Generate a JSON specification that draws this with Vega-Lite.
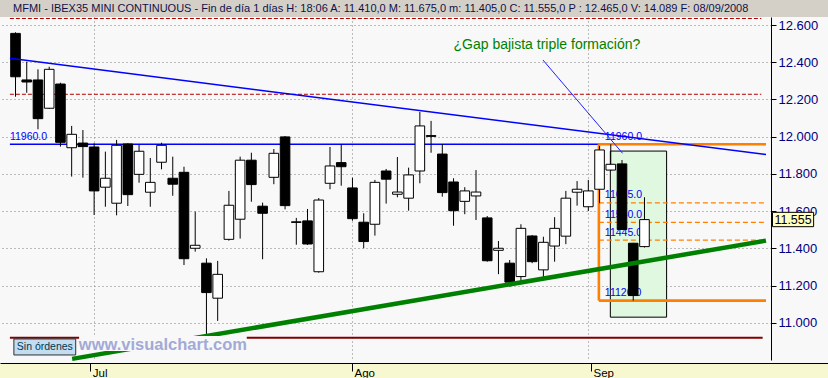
{
  "$schema": "https://vega.github.io/schema/vega-lite/v6.json",
  "padding": 0,
  "spacing": 0,
  "background": "#f8f8f8",
  "config": {"view": {"stroke": null}, "font": "Liberation Sans", "concat": {"spacing": 0}},
  "datasets": {
    "candles": [
      {"d":"2008-06-20","i":0,"o":12555,"h":12561,"l":12215,"c":12322},
      {"d":"2008-06-23","i":1,"o":12305,"h":12403,"l":12236,"c":12294},
      {"d":"2008-06-24","i":2,"o":12305,"h":12362,"l":12040,"c":12097},
      {"d":"2008-06-25","i":3,"o":12153,"h":12376,"l":12150,"c":12362},
      {"d":"2008-06-26","i":4,"o":12283,"h":12290,"l":11947,"c":11970},
      {"d":"2008-06-27","i":5,"o":11941,"h":12058,"l":11786,"c":12013},
      {"d":"2008-06-30","i":6,"o":11966,"h":12036,"l":11780,"c":11947},
      {"d":"2008-07-01","i":7,"o":11945,"h":11965,"l":11580,"c":11709},
      {"d":"2008-07-02","i":8,"o":11729,"h":11920,"l":11624,"c":11777},
      {"d":"2008-07-03","i":9,"o":11643,"h":11983,"l":11578,"c":11954},
      {"d":"2008-07-04","i":10,"o":11961,"h":11965,"l":11628,"c":11689},
      {"d":"2008-07-07","i":11,"o":11798,"h":11956,"l":11753,"c":11922},
      {"d":"2008-07-08","i":12,"o":11702,"h":11886,"l":11624,"c":11755},
      {"d":"2008-07-09","i":13,"o":11863,"h":11968,"l":11825,"c":11954},
      {"d":"2008-07-10","i":14,"o":11777,"h":11893,"l":11683,"c":11745},
      {"d":"2008-07-11","i":15,"o":11809,"h":11839,"l":11311,"c":11345},
      {"d":"2008-07-14","i":16,"o":11401,"h":11598,"l":11383,"c":11417},
      {"d":"2008-07-15","i":17,"o":11321,"h":11347,"l":10921,"c":11163},
      {"d":"2008-07-16","i":18,"o":11133,"h":11333,"l":11011,"c":11261},
      {"d":"2008-07-17","i":19,"o":11449,"h":11709,"l":11442,"c":11632},
      {"d":"2008-07-18","i":20,"o":11557,"h":11893,"l":11453,"c":11874},
      {"d":"2008-07-21","i":21,"o":11874,"h":11914,"l":11651,"c":11743},
      {"d":"2008-07-22","i":22,"o":11627,"h":11646,"l":11342,"c":11589},
      {"d":"2008-07-23","i":23,"o":11782,"h":11934,"l":11745,"c":11911},
      {"d":"2008-07-24","i":24,"o":11999,"h":12004,"l":11610,"c":11630},
      {"d":"2008-07-25","i":25,"o":11543,"h":11564,"l":11420,"c":11540},
      {"d":"2008-07-28","i":26,"o":11548,"h":11612,"l":11419,"c":11424},
      {"d":"2008-07-29","i":27,"o":11275,"h":11671,"l":11270,"c":11660},
      {"d":"2008-07-30","i":28,"o":11750,"h":11945,"l":11718,"c":11843},
      {"d":"2008-07-31","i":29,"o":11861,"h":11961,"l":11737,"c":11839},
      {"d":"2008-08-01","i":30,"o":11725,"h":11780,"l":11549,"c":11560},
      {"d":"2008-08-04","i":31,"o":11541,"h":11589,"l":11401,"c":11437},
      {"d":"2008-08-05","i":32,"o":11530,"h":11768,"l":11469,"c":11755},
      {"d":"2008-08-06","i":33,"o":11816,"h":11827,"l":11641,"c":11772},
      {"d":"2008-08-07","i":34,"o":11691,"h":11891,"l":11675,"c":11703},
      {"d":"2008-08-08","i":35,"o":11670,"h":11834,"l":11603,"c":11795},
      {"d":"2008-08-11","i":36,"o":11816,"h":12133,"l":11750,"c":12058},
      {"d":"2008-08-12","i":37,"o":12006,"h":12085,"l":11914,"c":12002},
      {"d":"2008-08-13","i":38,"o":11907,"h":11961,"l":11678,"c":11700},
      {"d":"2008-08-14","i":39,"o":11757,"h":11777,"l":11522,"c":11603},
      {"d":"2008-08-15","i":40,"o":11653,"h":11729,"l":11584,"c":11709},
      {"d":"2008-08-18","i":41,"o":11682,"h":11821,"l":11553,"c":11703},
      {"d":"2008-08-19","i":42,"o":11564,"h":11574,"l":11329,"c":11334},
      {"d":"2008-08-20","i":43,"o":11390,"h":11440,"l":11262,"c":11401},
      {"d":"2008-08-21","i":44,"o":11321,"h":11338,"l":11195,"c":11219},
      {"d":"2008-08-22","i":45,"o":11249,"h":11530,"l":11208,"c":11508},
      {"d":"2008-08-25","i":46,"o":11467,"h":11472,"l":11321,"c":11329},
      {"d":"2008-08-26","i":47,"o":11285,"h":11463,"l":11231,"c":11433},
      {"d":"2008-08-27","i":48,"o":11413,"h":11568,"l":11329,"c":11508},
      {"d":"2008-08-28","i":49,"o":11466,"h":11709,"l":11423,"c":11670},
      {"d":"2008-08-29","i":50,"o":11702,"h":11762,"l":11630,"c":11718},
      {"d":"2008-09-01","i":51,"o":11624,"h":11768,"l":11601,"c":11709},
      {"d":"2008-09-02","i":52,"o":11718,"h":11950,"l":11643,"c":11929},
      {"d":"2008-09-03","i":53,"o":11821,"h":11960,"l":11815,"c":11852},
      {"d":"2008-09-04","i":54,"o":11854,"h":11875,"l":11500,"c":11502},
      {"d":"2008-09-05","i":55,"o":11428,"h":11430,"l":11120,"c":11147},
      {"d":"2008-09-08","i":56,"o":11410,"h":11675,"l":11405,"c":11555}
    ],
    "lines": [
      {"k":"resistance","i":-0.5,"v":11960,"i2":51.94,"v2":11960},
      {"k":"downtrend","i":-0.5,"v":12421,"i2":66.82,"v2":11904},
      {"k":"box","i":51.94,"v":11960,"i2":66.82,"v2":11960},
      {"k":"box","i":51.94,"v":11120,"i2":66.82,"v2":11120},
      {"k":"box","i":51.94,"v":11960,"i2":51.94,"v2":11120},
      {"k":"fibo","i":51.94,"v":11645,"i2":66.82,"v2":11645},
      {"k":"fibo","i":51.94,"v":11540,"i2":66.82,"v2":11540},
      {"k":"fibo","i":51.94,"v":11445,"i2":66.82,"v2":11445},
      {"k":"level","i":-0.5,"v":12635,"i2":66.4,"v2":12635},
      {"k":"level","i":-0.5,"v":12228,"i2":66.4,"v2":12228},
      {"k":"support","i":-0.5,"v":10921,"i2":66.52,"v2":10921},
      {"k":"uptrend","i":5.04,"v":10807,"i2":66.82,"v2":11442},
      {"k":"pointer","i":46.96,"v":12412,"i2":54.05,"v2":11911}
    ],
    "labels": [
      {"t":"11960.0","i":-0.5,"v":11960},
      {"t":"11960.0","i":52.47,"v":11960},
      {"t":"11645.0","i":52.47,"v":11645},
      {"t":"11540.0","i":52.47,"v":11540},
      {"t":"11445.0","i":52.47,"v":11445},
      {"t":"11120.0","i":52.47,"v":11120}
    ]
  },
  "vconcat": [
    {
      "width": 828,
      "height": 17,
      "view": {"fill": "#d4d0c8", "stroke": null},
      "data": {"values": [{"k": 1}]},
      "mark": {"type": "point", "opacity": 0},
      "title": {
        "text": "MFMI - IBEX35 MINI CONTINUOUS - Fin de día 1 días  H: 18:06  A: 11.410,0  M: 11.675,0  m: 11.405,0  C: 11.555,0  P : 12.465,0  V: 14.089  F: 08/09/2008",
        "anchor": "start",
        "frame": "group",
        "orient": "top",
        "offset": -14,
        "dx": 13,
        "font": "Liberation Sans",
        "fontSize": 11,
        "fontWeight": "normal",
        "color": "#10104a"
      }
    },
    {
      "width": 771,
      "height": 343,
      "view": {"fill": "#f8f8f8", "stroke": null},
      "layer": [
        {
          "data": {"values": [{"name": "gap", "i": 52.96, "i2": 57.97, "v": 11923, "v2": 11031}]},
          "mark": {"type": "rect", "fill": "#e0f8e0", "stroke": "#000000", "strokeWidth": 1},
          "encoding": {
            "x": {"field": "i", "type": "quantitative", "scale": {"domain": [-0.936, 66.82], "nice": false, "zero": false},
              "axis": {"values": [7, 30, 51], "labels": false, "ticks": false, "domain": false, "grid": true, "gridDash": [1, 3], "gridColor": "#808080", "title": null}},
            "x2": {"field": "i2"},
            "y": {"field": "v", "type": "quantitative", "scale": {"domain": [10801, 12643], "nice": false, "zero": false},
              "axis": {"orient": "right", "values": [11000, 11200, 11400, 11600, 11800, 12000, 12200, 12400, 12600],
                "labelExpr": "replace(format(datum.value, ',.0f'), ',', '.')", "grid": true, "gridDash": [1, 3], "gridColor": "#808080",
                "tickSize": 5, "tickColor": "#000000", "domain": true, "domainColor": "#000000", "labelColor": "#000080", "labelFontSize": 13,
                "labelFont": "Liberation Sans", "labelPadding": 2, "title": null}},
            "y2": {"field": "v2"}
          }
        },
        {
          "data": {"name": "lines"},
          "transform": [{"filter": "datum.k == 'fibo'"}],
          "mark": {"type": "rule", "color": "#ff8000", "strokeWidth": 1.3, "strokeDash": [5, 3]},
          "encoding": {
            "x": {"field": "i", "type": "quantitative", "title": null},
            "x2": {"field": "i2"},
            "y": {"field": "v", "type": "quantitative", "title": null},
            "y2": {"field": "v2"}
          }
        },
        {
          "data": {"name": "lines"},
          "transform": [{"filter": "datum.k == 'resistance'"}],
          "mark": {"type": "rule", "color": "#0000ff", "strokeWidth": 1.5},
          "encoding": {
            "x": {"field": "i", "type": "quantitative", "title": null},
            "x2": {"field": "i2"},
            "y": {"field": "v", "type": "quantitative", "title": null},
            "y2": {"field": "v2"}
          }
        },
        {
          "data": {"name": "lines"},
          "transform": [{"filter": "datum.k == 'box'"}],
          "mark": {"type": "rule", "color": "#ff8000", "strokeWidth": 2.6},
          "encoding": {
            "x": {"field": "i", "type": "quantitative", "title": null},
            "x2": {"field": "i2"},
            "y": {"field": "v", "type": "quantitative", "title": null},
            "y2": {"field": "v2"}
          }
        },
        {
          "data": {"name": "labels"},
          "mark": {"type": "text", "align": "left", "baseline": "alphabetic", "dy": -4.5, "font": "Liberation Sans", "fontSize": 10.5, "color": "#0000ff"},
          "encoding": {
            "x": {"field": "i", "type": "quantitative", "title": null},
            "y": {"field": "v", "type": "quantitative", "title": null},
            "text": {"field": "t"}
          }
        },
        {
          "data": {"name": "lines"},
          "transform": [{"filter": "datum.k == 'level'"}],
          "mark": {"type": "rule", "color": "#b00000", "strokeWidth": 1, "strokeDash": [4, 2]},
          "encoding": {
            "x": {"field": "i", "type": "quantitative", "title": null},
            "x2": {"field": "i2"},
            "y": {"field": "v", "type": "quantitative", "title": null},
            "y2": {"field": "v2"}
          }
        },
        {
          "data": {"name": "lines"},
          "transform": [{"filter": "datum.k == 'support'"}],
          "mark": {"type": "rule", "color": "#800000", "strokeWidth": 2},
          "encoding": {
            "x": {"field": "i", "type": "quantitative", "title": null},
            "x2": {"field": "i2"},
            "y": {"field": "v", "type": "quantitative", "title": null},
            "y2": {"field": "v2"}
          }
        },
        {
          "data": {"name": "candles"},
          "mark": {"type": "rule", "color": "#000000", "strokeWidth": 1},
          "encoding": {
            "x": {"field": "i", "type": "quantitative", "title": null},
            "y": {"field": "l", "type": "quantitative", "title": null},
            "y2": {"field": "h"}
          }
        },
        {
          "data": {"name": "candles"},
          "mark": {"type": "bar", "size": 9.6, "stroke": "#000000", "strokeWidth": 1},
          "encoding": {
            "x": {"field": "i", "type": "quantitative", "title": null},
            "y": {"field": "o", "type": "quantitative", "title": null},
            "y2": {"field": "c"},
            "fill": {"condition": {"test": "datum.c >= datum.o", "value": "#ffffff"}, "value": "#000000"}
          }
        },
        {
          "data": {"name": "lines"},
          "transform": [{"filter": "datum.k == 'downtrend'"}],
          "mark": {"type": "rule", "color": "#0000ff", "strokeWidth": 1.5},
          "encoding": {
            "x": {"field": "i", "type": "quantitative", "title": null},
            "x2": {"field": "i2"},
            "y": {"field": "v", "type": "quantitative", "title": null},
            "y2": {"field": "v2"}
          }
        },
        {
          "data": {"name": "lines"},
          "transform": [{"filter": "datum.k == 'uptrend'"}],
          "mark": {"type": "rule", "color": "#008000", "strokeWidth": 4.5},
          "encoding": {
            "x": {"field": "i", "type": "quantitative", "title": null},
            "x2": {"field": "i2"},
            "y": {"field": "v", "type": "quantitative", "title": null},
            "y2": {"field": "v2"}
          }
        },
        {
          "data": {"name": "lines"},
          "transform": [{"filter": "datum.k == 'pointer'"}],
          "mark": {"type": "rule", "color": "#2020ff", "strokeWidth": 1},
          "encoding": {
            "x": {"field": "i", "type": "quantitative", "title": null},
            "x2": {"field": "i2"},
            "y": {"field": "v", "type": "quantitative", "title": null},
            "y2": {"field": "v2"}
          }
        },
        {
          "data": {"values": [{"t": "¿Gap bajista triple formación?", "i": 47.31, "v": 12473}]},
          "mark": {"type": "text", "align": "center", "baseline": "alphabetic", "font": "Liberation Sans", "fontSize": 14, "color": "#008000"},
          "encoding": {
            "x": {"field": "i", "type": "quantitative", "title": null},
            "y": {"field": "v", "type": "quantitative", "title": null},
            "text": {"field": "t"}
          }
        },
        {
          "data": {"values": [{"name": "watermark", "i": 5.66, "i2": 20.59, "v": 10930, "v2": 10850}]},
          "mark": {"type": "rect", "fill": "#f8f8f8"},
          "encoding": {
            "x": {"field": "i", "type": "quantitative", "title": null},
            "x2": {"field": "i2"},
            "y": {"field": "v", "type": "quantitative", "title": null},
            "y2": {"field": "v2"}
          }
        },
        {
          "data": {"values": [{"t": "www.visualchart.com", "i": 13.12, "v": 10855}]},
          "mark": {"type": "text", "align": "center", "baseline": "alphabetic", "font": "Liberation Sans", "fontSize": 16.5, "fontWeight": "bold", "color": "#a2aad6"},
          "encoding": {
            "x": {"field": "i", "type": "quantitative", "title": null},
            "y": {"field": "v", "type": "quantitative", "title": null},
            "text": {"field": "t"}
          }
        },
        {
          "data": {"values": [{"name": "orders", "i": -0.145, "i2": 5.36, "v": 10914, "v2": 10828}]},
          "mark": {"type": "rect", "fill": "#c4dcf0", "stroke": "#303030", "strokeWidth": 1},
          "encoding": {
            "x": {"field": "i", "type": "quantitative", "title": null},
            "x2": {"field": "i2"},
            "y": {"field": "v", "type": "quantitative", "title": null},
            "y2": {"field": "v2"}
          }
        },
        {
          "data": {"values": [{"t": "Sin órdenes", "i": 2.61, "v": 10871}]},
          "mark": {"type": "text", "align": "center", "baseline": "middle", "font": "Liberation Sans", "fontSize": 10.5, "color": "#003850"},
          "encoding": {
            "x": {"field": "i", "type": "quantitative", "title": null},
            "y": {"field": "v", "type": "quantitative", "title": null},
            "text": {"field": "t"}
          }
        },
        {
          "data": {"values": [{"name": "last", "i": 67.4, "i2": 71.06, "v": 11594, "v2": 11517}]},
          "mark": {"type": "rect", "fill": "#ffffc0", "stroke": "#000000", "strokeWidth": 1},
          "encoding": {
            "x": {"field": "i", "type": "quantitative", "title": null},
            "x2": {"field": "i2"},
            "y": {"field": "v", "type": "quantitative", "title": null},
            "y2": {"field": "v2"}
          }
        },
        {
          "data": {"values": [{"t": "11.555", "i": 69.23, "v": 11555}]},
          "mark": {"type": "text", "align": "center", "baseline": "middle", "font": "Liberation Sans", "fontSize": 12.5, "color": "#000000"},
          "encoding": {
            "x": {"field": "i", "type": "quantitative", "title": null},
            "y": {"field": "v", "type": "quantitative", "title": null},
            "text": {"field": "t"}
          }
        }
      ]
    },
    {
      "width": 828,
      "height": 18,
      "view": {"fill": "#f8f8d0", "stroke": null},
      "data": {"values": [{"i": 7, "m": "Jul"}, {"i": 30, "m": "Ago"}, {"i": 51, "m": "Sep"}]},
      "mark": {"type": "point", "opacity": 0},
      "encoding": {
        "x": {"field": "i", "type": "quantitative", "scale": {"domain": [-0.936, 71.829], "nice": false, "zero": false},
          "axis": {"orient": "bottom", "offset": -18, "values": [7, 30, 51],
            "labelExpr": "datum.value == 7 ? 'Jul' : datum.value == 30 ? 'Ago' : 'Sep'",
            "grid": false, "domain": true, "domainColor": "#000000", "domainWidth": 1,
            "ticks": true, "tickSize": 8, "tickColor": "#000000", "tickWidth": 1,
            "labelAlign": "left", "labelBaseline": "alphabetic", "labelPadding": 5.5, "labelOffset": 2,
            "labelFont": "Liberation Sans", "labelFontSize": 11.5, "labelColor": "#000000",
            "labelFlush": false, "labelOverlap": false, "title": null}}
      }
    }
  ]
}
